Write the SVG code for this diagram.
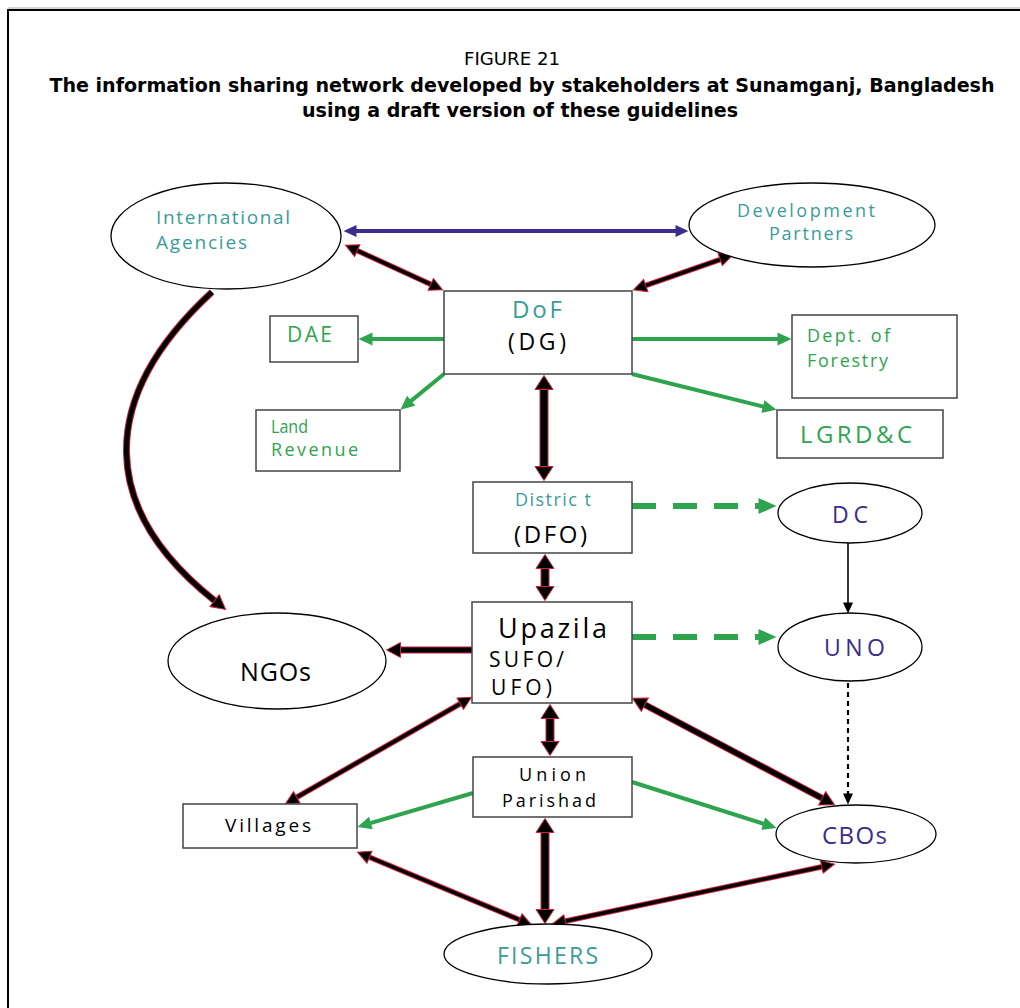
<svg xmlns="http://www.w3.org/2000/svg" width="1020" height="1008" viewBox="0 0 1020 1008">
<style>
.t{font-family:"Open Sans","Noto Sans","DejaVu Sans",sans-serif}
.teal{fill:#3a9c98}
.grn{fill:#2ea44f}
.ind{fill:#3d2b8e}
.blk{fill:#000}
.box{fill:#fff;stroke:#444;stroke-width:1.5}
.ell{fill:#fff;stroke:#000;stroke-width:1.3}
.title{font-family:"Liberation Sans Narrow","DejaVu Sans Condensed","Liberation Sans",sans-serif;font-stretch:condensed;fill:#000;text-anchor:middle}
.halo{fill:none;stroke:#d0203c;stroke-linecap:butt}
.core{fill:none;stroke:#000;stroke-linecap:butt}
.h9{stroke-width:9}.c7{stroke-width:7}
.h7{stroke-width:7}.c5{stroke-width:5}
.h5{stroke-width:5.5}.c3{stroke-width:3.5}
.g{fill:none;stroke:#2ea44f;stroke-width:4}
.gd{fill:none;stroke:#2ea44f;stroke-width:6;stroke-dasharray:24 17}
</style>
<defs>
<marker id="mThick" markerUnits="userSpaceOnUse" markerWidth="16" markerHeight="20" refX="0.5" refY="9" orient="auto-start-reverse" overflow="visible"><path d="M0,0 L14,9 L0,18 Z" fill="#000" stroke="#d0203c" stroke-width="1"/></marker>
<marker id="mMid" markerUnits="userSpaceOnUse" markerWidth="16" markerHeight="17" refX="0.5" refY="7.5" orient="auto-start-reverse" overflow="visible"><path d="M0,0 L14,7.5 L0,15 Z" fill="#000" stroke="#d0203c" stroke-width="1"/></marker>
<marker id="mThin" markerUnits="userSpaceOnUse" markerWidth="15" markerHeight="15" refX="0.5" refY="6.5" orient="auto-start-reverse" overflow="visible"><path d="M0,0 L13,6.5 L0,13 Z" fill="#000" stroke="#d0203c" stroke-width="1"/></marker>
<marker id="mGreen" markerUnits="userSpaceOnUse" markerWidth="15" markerHeight="14" refX="0.5" refY="6.5" orient="auto" overflow="visible"><path d="M0,0 L14,6.5 L0,13 Z" fill="#2ea44f"/></marker>
<marker id="mGreenD" markerUnits="userSpaceOnUse" markerWidth="19" markerHeight="17" refX="0.5" refY="8" orient="auto" overflow="visible"><path d="M0,0 L18,8 L0,16 Z" fill="#2ea44f"/></marker>
<marker id="mBlue" markerUnits="userSpaceOnUse" markerWidth="14" markerHeight="13" refX="0.5" refY="6" orient="auto-start-reverse" overflow="visible"><path d="M0,0 L13,6 L0,12 Z" fill="#3d2b8e"/></marker>
<marker id="mBlack" markerUnits="userSpaceOnUse" markerWidth="12" markerHeight="11" refX="0.5" refY="5" orient="auto" overflow="visible"><path d="M0,0 L11,5 L0,10 Z" fill="#000"/></marker>
</defs>
<rect width="1020" height="1008" fill="#fff"/>
<path d="M8,1008 V10 H1020" fill="none" stroke="#000" stroke-width="2"/>
<line x1="8" y1="8" x2="1020" y2="8" stroke="#aaa" stroke-width="1"/>

<g id="title">
<text class="title" x="512" y="65" font-size="17" textLength="96" lengthAdjust="spacingAndGlyphs">FIGURE 21</text>
<text class="title" x="522" y="92" font-size="19" font-weight="bold" textLength="945" lengthAdjust="spacingAndGlyphs">The information sharing network developed by stakeholders at Sunamganj, Bangladesh</text>
<text class="title" x="520" y="117" font-size="19" font-weight="bold" textLength="436" lengthAdjust="spacingAndGlyphs">using a draft version of these guidelines</text>
</g>

<g id="connectors">
<path d="M356,231 L676,231" fill="none" stroke="#3d2b8e" stroke-width="4" marker-start="url(#mBlue)" marker-end="url(#mBlue)"/>
<path class="halo h5" d="M356.8,250.4 L431.2,284.6"/>
<path class="core c3" d="M356.8,250.4 L431.2,284.6" marker-start="url(#mThin)" marker-end="url(#mThin)"/>
<path class="halo h5" d="M645.3,285.7 L720.7,259.3"/>
<path class="core c3" d="M645.3,285.7 L720.7,259.3" marker-start="url(#mThin)" marker-end="url(#mThin)"/>
<path class="g" d="M444,339 L372,339" marker-end="url(#mGreen)"/>
<path class="g" d="M632,339 L778,339" marker-end="url(#mGreen)"/>
<path class="g" d="M444,374 L410.8,401.1" marker-end="url(#mGreen)"/>
<path class="g" d="M632,374 L763.4,406.6" marker-end="url(#mGreen)"/>
<path class="halo h9" d="M544,389 L544,467"/>
<path class="core c7" d="M544,389 L544,467" marker-start="url(#mThick)" marker-end="url(#mThick)"/>
<path class="halo h9" d="M545,568 L545,587"/>
<path class="core c7" d="M545,568 L545,587" marker-start="url(#mThick)" marker-end="url(#mThick)"/>
<path class="gd" d="M632,506 L759,506" marker-end="url(#mGreenD)"/>
<path class="gd" d="M632,637 L759,637" marker-end="url(#mGreenD)"/>
<path d="M848,543 L848,603" fill="none" stroke="#000" stroke-width="1.6" marker-end="url(#mBlack)"/>
<path d="M848,683 L848,794" fill="none" stroke="#000" stroke-width="2.2" stroke-dasharray="5 4" marker-end="url(#mBlack)"/>
<path class="halo h7" d="M212,292 C95,400 100,510 215,601"/>
<path class="core c5" d="M212,292 C95,400 100,510 215,601" marker-end="url(#mMid)"/>
<path class="halo h7" d="M472,650 L400,650"/>
<path class="core c5" d="M472,650 L400,650" marker-end="url(#mMid)"/>
<path class="halo h5" d="M296.3,797.5 L460.7,703.5"/>
<path class="core c3" d="M296.3,797.5 L460.7,703.5" marker-start="url(#mThin)" marker-end="url(#mThin)"/>
<path class="halo h9" d="M550,718 L550,742"/>
<path class="core c7" d="M550,718 L550,742" marker-start="url(#mThick)" marker-end="url(#mThick)"/>
<path class="halo h7" d="M644.4,704.5 L822.6,798.5"/>
<path class="core c5" d="M644.4,704.5 L822.6,798.5" marker-start="url(#mMid)" marker-end="url(#mMid)"/>
<path class="g" d="M473,793 L370.4,823.1" marker-end="url(#mGreen)"/>
<path class="g" d="M632,782 L763.7,823.8" marker-end="url(#mGreen)"/>
<path class="halo h5" d="M369,857 L520,920"/>
<path class="core c3" d="M369,857 L520,920" marker-start="url(#mThin)" marker-end="url(#mThin)"/>
<path class="halo h9" d="M545,832 L545,910"/>
<path class="core c7" d="M545,832 L545,910" marker-start="url(#mThick)" marker-end="url(#mThick)"/>
<path class="halo h5" d="M564.7,921.3 L822.3,866.7"/>
<path class="core c3" d="M564.7,921.3 L822.3,866.7" marker-start="url(#mThin)" marker-end="url(#mThin)"/>
</g>

<g id="intl">
<ellipse class="ell" cx="226" cy="236" rx="115" ry="53"/>
<text class="t teal" x="156" y="224" font-size="19" textLength="134">International</text>
<text class="t teal" x="156" y="249" font-size="19" textLength="91">Agencies</text>
</g>
<g id="devpartners">
<ellipse class="ell" cx="812" cy="225" rx="123" ry="42"/>
<text class="t teal" x="737" y="217" font-size="18" textLength="138">Development</text>
<text class="t teal" x="769" y="240" font-size="18" textLength="84">Partners</text>
</g>
<g id="dof">
<rect class="box" x="444" y="291" width="188" height="83"/>
<text class="t teal" x="512" y="318" font-size="24" textLength="50">DoF</text>
<text class="t blk" x="508" y="350" font-size="23" textLength="58">(DG)</text>
</g>
<g id="dae">
<rect class="box" x="270" y="316" width="88" height="46"/>
<text class="t grn" x="287" y="342" font-size="21" textLength="45">DAE</text>
</g>
<g id="forestry">
<rect class="box" x="792" y="315" width="165" height="83"/>
<text class="t grn" x="807" y="342" font-size="18" textLength="83">Dept. of</text>
<text class="t grn" x="807" y="367" font-size="18" textLength="81">Forestry</text>
</g>
<g id="landrevenue">
<rect class="box" x="256" y="410" width="144" height="61"/>
<text class="t grn" x="271" y="433" font-size="18" textLength="37" lengthAdjust="spacingAndGlyphs">Land</text>
<text class="t grn" x="271" y="456" font-size="18" textLength="87">Revenue</text>
</g>
<g id="lgrdc">
<rect class="box" x="777" y="410" width="166" height="48"/>
<text class="t grn" x="800" y="443" font-size="24" textLength="112">LGRD&amp;C</text>
</g>
<g id="district">
<rect class="box" x="473" y="482" width="159" height="71"/>
<text class="t teal" x="515" y="506" font-size="18" textLength="76">Distric t</text>
<text class="t blk" x="514" y="543" font-size="24" textLength="73">(DFO)</text>
</g>
<g id="dc">
<ellipse class="ell" cx="850" cy="513" rx="72" ry="30"/>
<text class="t ind" x="832" y="523" font-size="23" textLength="36">DC</text>
</g>
<g id="upazila">
<rect class="box" x="472" y="602" width="160" height="101"/>
<text class="t blk" x="498" y="638" font-size="27" textLength="109">Upazila</text>
<text class="t blk" x="489" y="667" font-size="21" textLength="75">SUFO/</text>
<text class="t blk" x="491" y="695" font-size="21" textLength="61">UFO)</text>
</g>
<g id="uno">
<ellipse class="ell" cx="850" cy="647" rx="72" ry="34"/>
<text class="t ind" x="824" y="656" font-size="23" textLength="61">UNO</text>
</g>
<g id="ngos">
<ellipse class="ell" cx="277" cy="661" rx="109" ry="48"/>
<text class="t blk" x="240" y="681" font-size="25" textLength="71">NGOs</text>
</g>
<g id="villages">
<rect class="box" x="183" y="804" width="174" height="44"/>
<text class="t blk" x="225" y="832" font-size="19" textLength="86">Villages</text>
</g>
<g id="union">
<rect class="box" x="473" y="757" width="159" height="60"/>
<text class="t blk" x="519" y="781" font-size="18" textLength="67">Union</text>
<text class="t blk" x="502" y="807" font-size="18" textLength="94">Parishad</text>
</g>
<g id="cbos">
<ellipse class="ell" cx="856" cy="834" rx="80" ry="29"/>
<text class="t ind" x="822" y="844" font-size="24" textLength="65">CBOs</text>
</g>
<g id="fishers">
<ellipse class="ell" cx="548" cy="954" rx="104" ry="30"/>
<text class="t teal" x="497" y="964" font-size="23" textLength="101">FISHERS</text>
</g>
</svg>
